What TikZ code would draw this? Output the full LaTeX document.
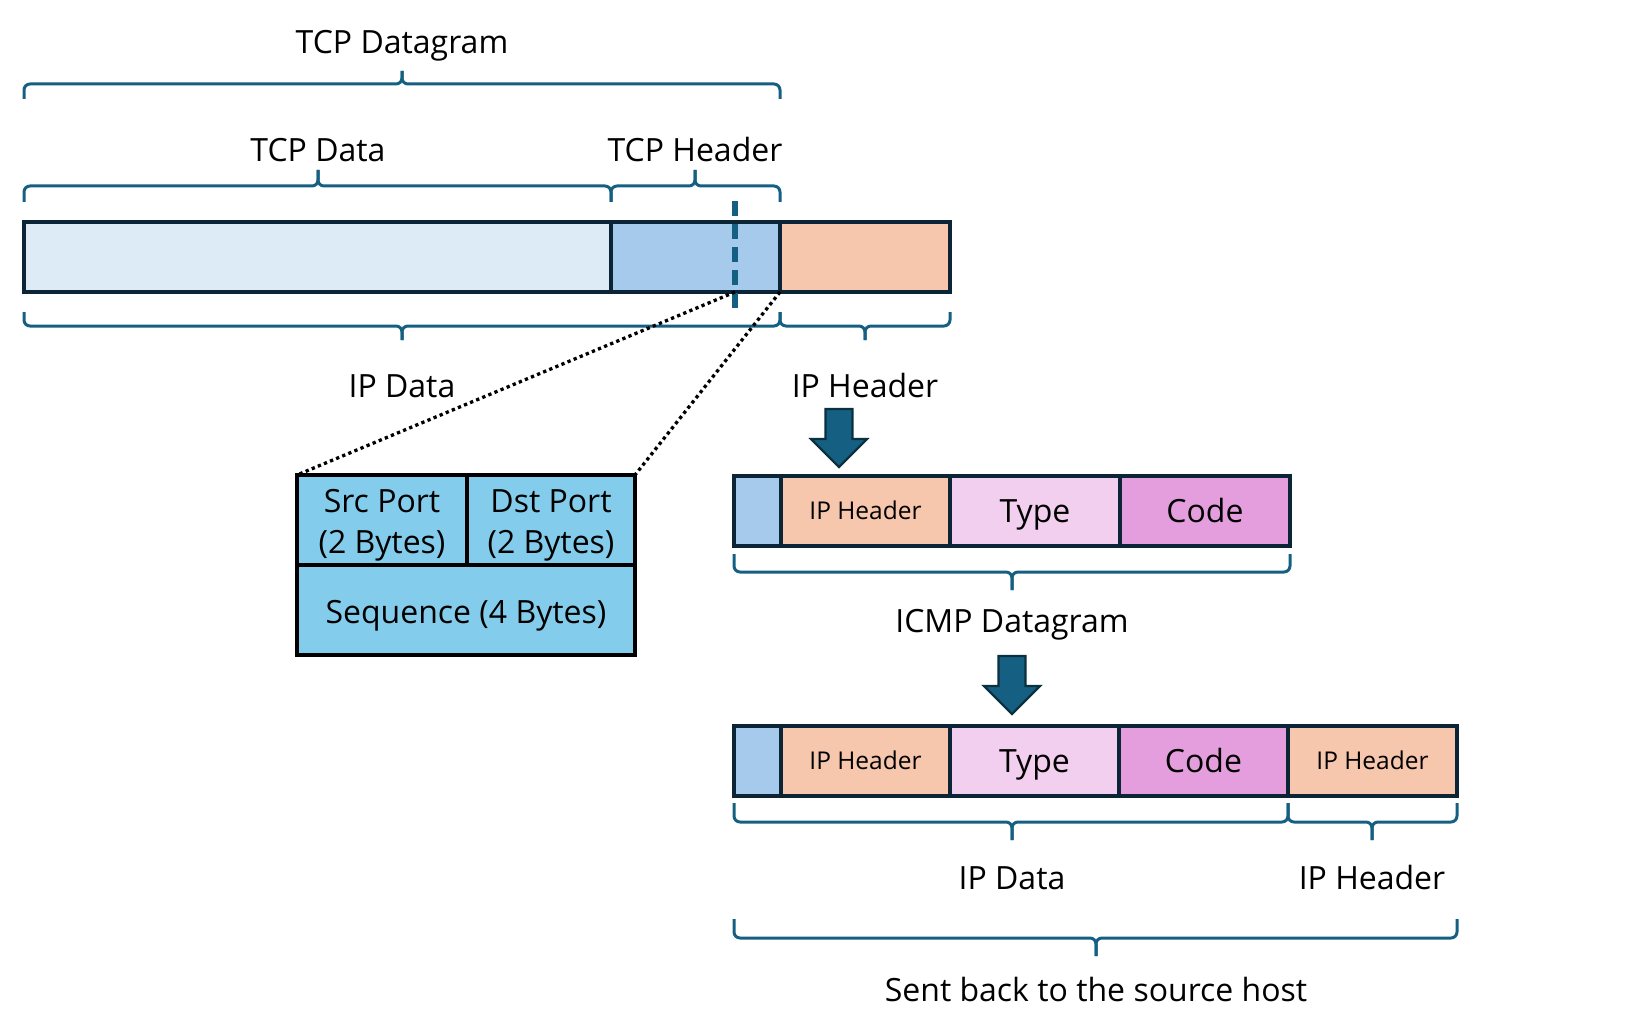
\documentclass[tikz,border=0pt]{standalone}
\usepackage{fontspec}
\setmainfont{Open Sans}
\usetikzlibrary{calc}
\definecolor{tcpdatacol}{HTML}{DDEBF7}
\definecolor{tcphdrcol}{HTML}{A6CAEC}
\definecolor{iphdrcol}{HTML}{F6C6AD}
\definecolor{typecol}{HTML}{F2CEEF}
\definecolor{codecol}{HTML}{E59EDD}
\definecolor{portcol}{HTML}{83CCEB}
\definecolor{bracecol}{HTML}{156082}
\definecolor{bordercol}{HTML}{0B2436}
\definecolor{arrowedge}{HTML}{0B3040}
\newcommand{\ofbrace}[6]{% x1, x2, xtip, yline, yend, ytip
  \draw[brc] (#1,#5) -- (#1,#4) -- (#3,#4) -- (#3,#6);
  \draw[brc] (#2,#5) -- (#2,#4) -- (#3,#4) -- (#3,#6);
}
\newcommand{\blkarrow}[2]{% xcenter, ytop
  \draw[blockarrow] (#1-13.5,#2) -- (#1+13.5,#2) -- (#1+13.5,#2+30) -- (#1+28,#2+30)
    -- (#1,#2+58) -- (#1-28,#2+30) -- (#1-13.5,#2+30) -- cycle;
}
\begin{document}
\begin{tikzpicture}[x=1pt,y=-1pt,
  cell/.style={draw=bordercol, line width=3.2pt, minimum height=70pt, inner sep=0pt,
    outer sep=0pt, anchor=north west},
  bigtxt/.style={font=\fontsize{32}{38}\selectfont, text height=22.8pt, text depth=0pt},
  smalltxt/.style={font=\fontsize{24.5}{30}\selectfont, text height=17.5pt, text depth=0pt},
  portcell/.style={draw=black, line width=3.4pt, fill=portcol, inner sep=0pt, outer sep=0pt,
    anchor=north west, minimum height=90pt},
  lbl/.style={font=\fontsize{32}{38}\selectfont, anchor=base, inner sep=0pt},
  brc/.style={draw=bracecol, line width=3pt, rounded corners=6pt},
  dashln/.style={draw=bracecol, line width=6pt, dash pattern=on 15pt off 8pt},
  dotln/.style={draw=black, line width=3.3pt, dash pattern=on 3.3pt off 3.3pt},
  blockarrow/.style={fill=bracecol, draw=arrowedge, line width=2.2pt, line join=miter}]
\useasboundingbox (0,0) rectangle (1633,1011);

% ---------- top bar ----------
\node[cell, fill=tcpdatacol, minimum width=587pt] (tcpd) at (24,222) {};
\node[cell, fill=tcphdrcol, minimum width=169pt] (tcph) at (611,222) {};
\node[cell, fill=iphdrcol, minimum width=170pt] (iph0) at (780,222) {};

% braces above
\ofbrace{24}{780}{402}{84}{99}{71}
\node[lbl] (ltcpdg) at (402,54) {TCP Datagram};
\ofbrace{24}{611}{318}{186}{202}{170}
\node[lbl] (ltcpdata) at (318,162) {TCP Data};
\ofbrace{611}{780}{695}{186}{202}{170}
\node[lbl] (ltcphdr) at (695,162) {TCP Header};

% braces below
\ofbrace{24}{780}{402}{326}{312}{340}
\node[lbl] (lipdata0) at (402,397) {IP Data};
\ofbrace{780}{950}{865}{326}{312}{340}
\node[lbl] (liphdr0) at (865,397) {IP Header};

% dashed split line
\coordinate (dtop) at (735,201);
\coordinate (dbot) at (735,310);
\coordinate (dsplit) at (735,292);
\draw[dashln] (dtop) -- (dbot);

% ---------- port box ----------
\node[portcell, minimum width=170pt] (src) at (297,475) {};
\node[portcell, minimum width=168pt] (dst) at (467,475) {};
\node[portcell, minimum width=338pt] (seq) at (297,565) {};
\node[lbl] (srcA) at (382,512) {Src Port};
\node[lbl] (srcB) at (382,553) {(2 Bytes)};
\node[lbl] (dstA) at (551,512) {Dst Port};
\node[lbl] (dstB) at (551,553) {(2 Bytes)};
\node[lbl] (seqT) at (466,623) {Sequence (4 Bytes)};

\draw[dotln] (dsplit) -- (src.north west);
\draw[dotln] (tcph.south east) -- (dst.north east);

% ---------- arrow 1 ----------
\blkarrow{839}{409}

% ---------- ICMP row ----------
\node[cell, fill=tcphdrcol, minimum width=47pt] (c0) at (734,476) {};
\node[cell, fill=iphdrcol, minimum width=169pt, smalltxt] (c1) at (781,476) {IP Header};
\node[cell, fill=typecol, minimum width=170pt, bigtxt] (c2) at (950,476) {Type};
\node[cell, fill=codecol, minimum width=170pt, bigtxt] (c3) at (1120,476) {Code};
\ofbrace{734}{1290}{1012}{572}{554}{590}
\node[lbl] (licmp) at (1012,632) {ICMP Datagram};

% ---------- arrow 2 ----------
\blkarrow{1012}{656}

% ---------- bottom row ----------
\node[cell, fill=tcphdrcol, minimum width=47pt] (d0) at (734,726) {};
\node[cell, fill=iphdrcol, minimum width=169pt, smalltxt] (d1) at (781,726) {IP Header};
\node[cell, fill=typecol, minimum width=169pt, bigtxt] (d2) at (950,726) {Type};
\node[cell, fill=codecol, minimum width=169pt, bigtxt] (d3) at (1119,726) {Code};
\node[cell, fill=iphdrcol, minimum width=169pt, smalltxt] (d4) at (1288,726) {IP Header};

\ofbrace{734}{1288}{1012}{822}{803}{840}
\node[lbl] (lipdata1) at (1012,889) {IP Data};
\ofbrace{1288}{1457}{1372}{822}{803}{840}
\node[lbl] (liphdr1) at (1372,889) {IP Header};
\ofbrace{734}{1457}{1096}{938}{919}{956}
\node[lbl] (lsent) at (1096,1001) {Sent back to the source host};
\end{tikzpicture}
\end{document}
